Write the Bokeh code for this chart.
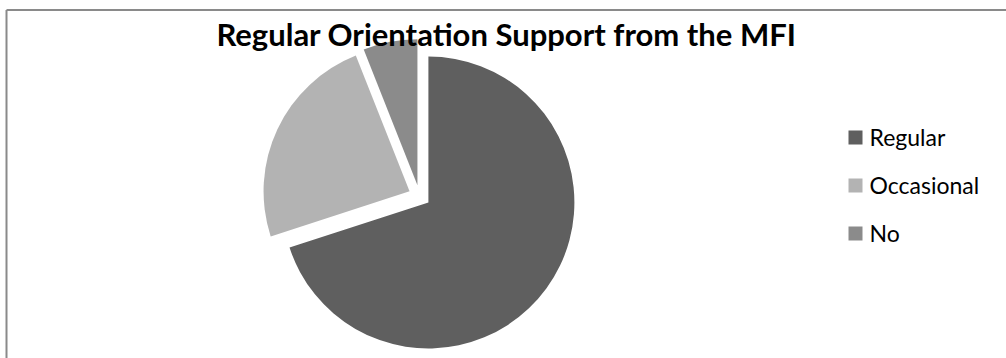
import math
from bokeh.plotting import figure
from bokeh.models import Label
from bokeh.core.properties import value
from bokeh.embed import file_html
from bokeh.resources import INLINE

# Data
categories = ["Regular", "Occasional", "No"]
shares = [70, 24, 6]
colors = ["#5f5f5f", "#b3b3b3", "#8b8b8b"]
title_text = "Regular Orientation Support from the MFI"

W, H = 1006, 358
p = figure(width=W, height=H, x_range=(0, W), y_range=(0, H),
           output_backend="svg", toolbar_location=None, min_border=0)
p.axis.visible = False
p.grid.visible = False
p.outline_line_color = None
p.background_fill_color = "white"
p.border_fill_color = "white"

# chart-area border (top and left edges)
p.segment(x0=[6, 6], y0=[H - 9.5, H - 9.5], x1=[W, 6], y1=[H - 9.5, 0],
          line_color="#8a8a8a", line_width=2)

# pie geometry (pixel-space layout)
cx, cy = 419.0, H - 195.5
radius = 146
explode = 11

total = float(sum(shares))
cum = 0.0
xs, ys, starts, ends = [], [], [], []
for s in shares:
    a0 = cum / total
    a1 = (cum + s) / total
    cum += s
    start = math.pi / 2 - a1 * 2 * math.pi
    end = math.pi / 2 - a0 * 2 * math.pi
    mid = (start + end) / 2
    xs.append(cx + explode * math.cos(mid))
    ys.append(cy + explode * math.sin(mid))
    starts.append(start)
    ends.append(end)

p.wedge(x=xs, y=ys, radius=radius, start_angle=starts, end_angle=ends,
        direction="anticlock", fill_color=colors, line_color=None)

# legend (manual)
leg_x = 855
leg_y = [H - 137 - i * 48 for i in range(len(categories))]
p.scatter(x=[leg_x] * len(categories), y=leg_y, marker="square", size=14,
          fill_color=colors, line_color=None)
p.text(x=[leg_x + 14] * len(categories), y=[v + 1 for v in leg_y], text=categories,
       text_font=value("Lato"), text_font_size="23px", text_color="#000000",
       text_baseline="middle", text_align="left")

title = Label(x=506, y=H - 33, text=title_text, text_font="Lato",
              text_font_style="bold", text_font_size="31px", text_color="#000000",
              text_align="center", text_baseline="alphabetic")
p.add_layout(title)

open("out.html", "w").write(file_html(p, INLINE))
